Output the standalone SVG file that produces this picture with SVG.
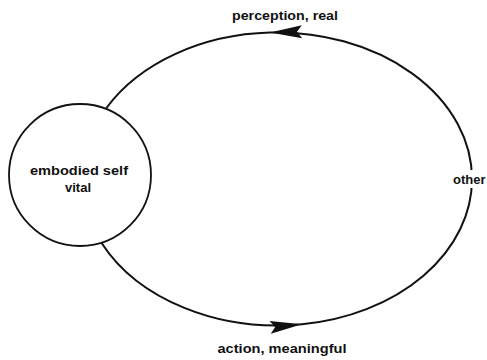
<svg xmlns="http://www.w3.org/2000/svg" width="487" height="360" viewBox="0 0 487 360">
<style>
.lbl{font-family:"Liberation Sans","DejaVu Sans",sans-serif;font-size:13px;font-weight:bold;fill:#111}
.edge{fill:none;stroke:#111;stroke-width:2}
.node{fill:#fff;stroke:#111;stroke-width:1.8}
</style>
<defs>
<marker id="arr" markerUnits="userSpaceOnUse" markerWidth="40" markerHeight="16" viewBox="-34 -8 40 16" refX="0" refY="0" orient="auto" overflow="visible">
<path d="M0 0 L-32 -6.5 L-27 0 L-32 6.5 Z" fill="#111"/>
</marker>
</defs>
<rect width="487" height="360" fill="#fff"/>
<g id="connectors">
<path id="perception" class="edge" d="M472 179 A195 146.5 0 0 0 270 32.6 A195 146.5 0 0 0 106.4 108" marker-mid="url(#arr)"/>
<path id="action" class="edge" d="M101.6 243 A195 146.5 0 0 0 302 324.3 A195 146.5 0 0 0 472 179" marker-mid="url(#arr)"/>
<text class="lbl" x="285" y="20" text-anchor="middle" textLength="106" lengthAdjust="spacingAndGlyphs">perception, real</text>
<text class="lbl" x="282" y="353" text-anchor="middle" textLength="129" lengthAdjust="spacingAndGlyphs">action, meaningful</text>
</g>
<g id="self">
<circle class="node" cx="80" cy="175" r="71"/>
<text class="lbl" x="79" y="175" text-anchor="middle" textLength="98" lengthAdjust="spacingAndGlyphs">embodied self</text>
<text class="lbl" x="78" y="192" text-anchor="middle">vital</text>
</g>
<g id="other">
<rect x="452" y="170" width="35" height="18" fill="#fff"/>
<text class="lbl" x="453" y="184">other</text>
</g>
</svg>
